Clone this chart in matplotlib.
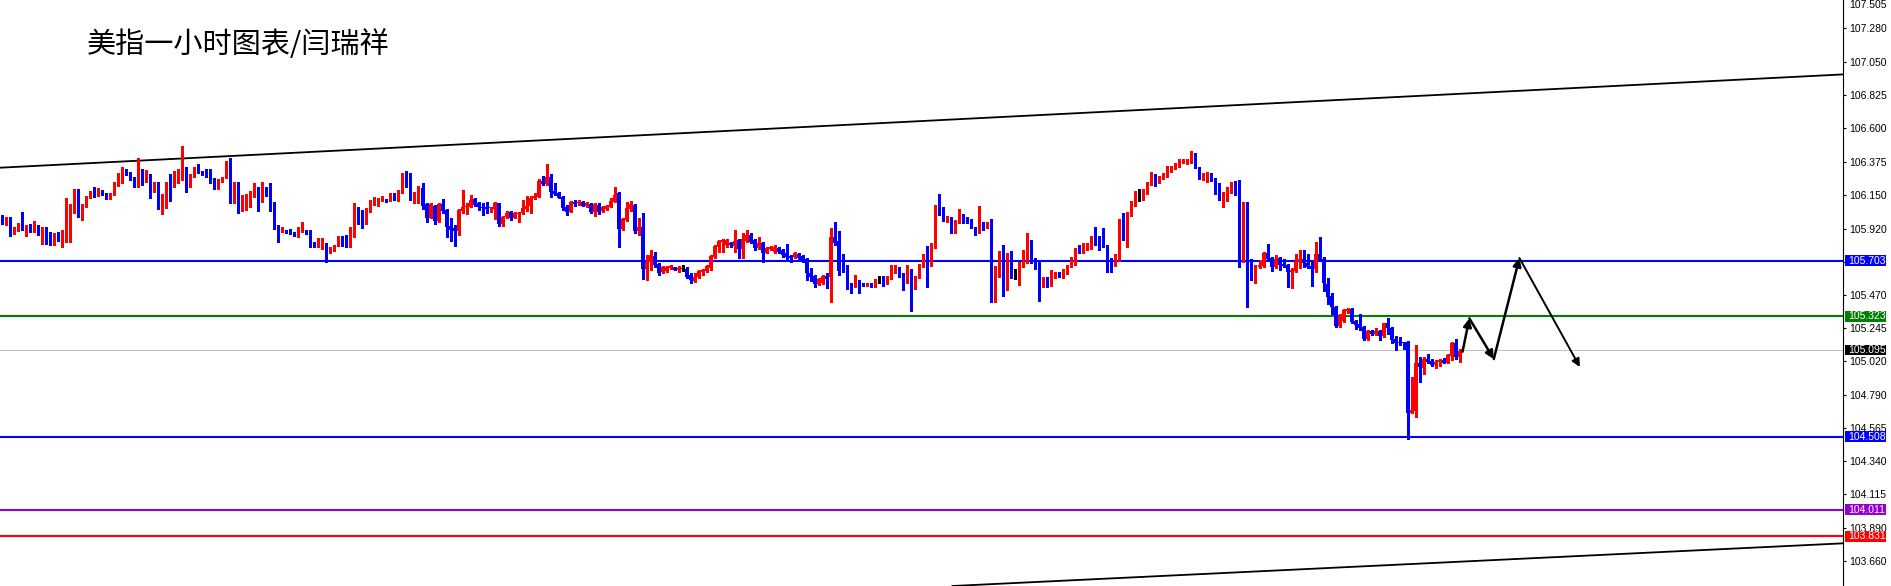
import numpy as np
import matplotlib
matplotlib.use('Agg')
import matplotlib.pyplot as plt
from matplotlib.patches import Rectangle
from matplotlib.transforms import blended_transform_factory

plt.rcParams['font.family'] = ['Liberation Sans', 'DejaVu Sans']

title = '美指一小时图表/闫瑞祥'

# hourly candles (oldest first)
opens = [
    106.005, 105.955, 105.989, 105.887, 105.910, 105.949, 105.926, 105.933, 105.910, 105.933,
    105.876, 105.915, 105.883, 105.874, 105.874, 105.854, 105.887, 105.944, 106.035, 106.154,
    106.012, 106.073, 106.136, 106.170, 106.143, 106.170, 106.159, 106.125, 106.154, 106.216,
    106.250, 106.311, 106.299, 106.261, 106.234, 106.317, 106.250, 106.283, 106.182, 106.231,
    106.087, 106.141, 106.231, 106.216, 106.238, 106.254, 106.306, 106.209, 106.277, 106.324,
    106.302, 106.299, 106.295, 106.254, 106.200, 106.245, 106.265, 106.374, 106.096, 106.231,
    106.096, 106.107, 106.141, 106.159, 106.193, 106.107, 106.198, 106.154, 106.096, 105.937,
    105.903, 105.903, 105.905, 105.894, 105.887, 105.903, 105.903, 105.899, 105.820, 105.804,
    105.801, 105.804, 105.763, 105.779, 105.808, 105.865, 105.831, 105.801, 105.869, 106.046,
    106.039, 105.971, 106.039, 106.086, 106.109, 106.114, 106.118, 106.114, 106.154, 106.114,
    106.170, 106.283, 106.290, 106.141, 106.159, 106.197, 106.084, 105.994, 106.073, 105.973,
    106.084, 106.046, 105.937, 105.921, 105.905, 106.039, 106.064, 106.068, 106.118, 106.091,
    106.064, 106.068, 106.057, 106.050, 106.091, 105.951, 105.996, 106.030, 105.994, 106.016,
    106.023, 106.050, 106.073, 106.125, 106.136, 106.245, 106.222, 106.272, 106.177, 106.163,
    106.136, 106.064, 106.034, 106.102, 106.091, 106.102, 106.075, 106.086, 106.034, 106.080,
    106.039, 106.052, 106.068, 106.102, 106.164, 105.915, 105.978, 106.051, 106.080, 105.906,
    105.933, 105.646, 105.695, 105.736, 105.680, 105.628, 105.634, 105.650, 105.657, 105.639,
    105.646, 105.646, 105.605, 105.566, 105.589, 105.628, 105.634, 105.650, 105.729, 105.797,
    105.831, 105.809, 105.820, 105.802, 105.843, 105.779, 105.838, 105.877, 105.843, 105.786,
    105.824, 105.757, 105.779, 105.763, 105.786, 105.775, 105.757, 105.734, 105.729, 105.748,
    105.734, 105.711, 105.621, 105.598, 105.544, 105.553, 105.598, 105.594, 105.865, 105.838,
    105.718, 105.643, 105.548, 105.537, 105.566, 105.548, 105.537, 105.548, 105.537, 105.559,
    105.566, 105.548, 105.582, 105.620, 105.650, 105.611, 105.552, 105.639, 105.525, 105.589,
    105.661, 105.740, 105.729, 105.808, 106.073, 106.057, 105.978, 105.989, 105.899, 105.967,
    106.005, 105.994, 105.973, 105.928, 105.899, 105.944, 105.933, 105.960, 105.559, 105.643,
    105.763, 105.593, 105.713, 105.623, 105.620, 105.661, 105.756, 105.835, 105.706, 105.688,
    105.530, 105.582, 105.537, 105.589, 105.620, 105.611, 105.634, 105.661, 105.706, 105.774,
    105.763, 105.781, 105.786, 105.858, 105.820, 105.820, 105.801, 105.695, 105.672, 105.734,
    105.978, 105.937, 106.012, 106.096, 106.132, 106.125, 106.175, 106.231, 106.283, 106.243,
    106.261, 106.272, 106.311, 106.324, 106.347, 106.374, 106.370, 106.370, 106.431, 106.336,
    106.265, 106.272, 106.295, 106.261, 106.175, 106.118, 106.141, 106.170, 106.231, 106.200,
    105.706, 106.087, 105.611, 105.577, 105.657, 105.666, 105.756, 105.718, 105.661, 105.718,
    105.679, 105.672, 105.627, 105.634, 105.702, 105.713, 105.688, 105.668, 105.645, 105.747,
    105.713, 105.543, 105.462, 105.385, 105.258, 105.294, 105.362, 105.374, 105.292, 105.272,
    105.249, 105.170, 105.225, 105.204, 105.227, 105.191, 105.277, 105.243, 105.168, 105.152,
    105.148, 105.152, 104.670, 104.684, 105.005, 104.971, 105.035, 105.023, 104.994, 105.014,
    105.028, 105.010, 105.055, 105.146, 105.046,
]
highs = [
    106.012, 106.001, 105.996, 105.933, 105.955, 106.030, 105.944, 105.951, 105.971, 105.944,
    105.933, 105.933, 105.894, 105.892, 105.899, 105.910, 106.125, 106.087, 106.188, 106.186,
    106.087, 106.141, 106.177, 106.200, 106.193, 106.182, 106.164, 106.164, 106.238, 106.295,
    106.340, 106.324, 106.306, 106.272, 106.397, 106.324, 106.317, 106.290, 106.238, 106.238,
    106.154, 106.238, 106.290, 106.311, 106.322, 106.480, 106.340, 106.290, 106.340, 106.358,
    106.313, 106.322, 106.322, 106.261, 106.256, 106.272, 106.379, 106.401, 106.238, 106.238,
    106.148, 106.154, 106.175, 106.227, 106.200, 106.234, 106.204, 106.227, 106.102, 105.944,
    105.928, 105.910, 105.915, 105.899, 105.933, 105.962, 105.910, 105.910, 105.831, 105.854,
    105.854, 105.824, 105.797, 105.808, 105.869, 105.869, 105.876, 105.933, 106.096, 106.068,
    106.046, 106.057, 106.114, 106.136, 106.125, 106.141, 106.120, 106.159, 106.159, 106.181,
    106.295, 106.313, 106.295, 106.170, 106.209, 106.231, 106.091, 106.091, 106.080, 106.091,
    106.118, 106.050, 105.989, 105.944, 106.050, 106.181, 106.096, 106.148, 106.125, 106.102,
    106.091, 106.098, 106.068, 106.102, 106.096, 106.005, 106.039, 106.039, 106.034, 106.034,
    106.114, 106.141, 106.141, 106.159, 106.254, 106.279, 106.358, 106.290, 106.227, 106.170,
    106.141, 106.080, 106.109, 106.114, 106.114, 106.107, 106.102, 106.091, 106.091, 106.091,
    106.073, 106.080, 106.129, 106.204, 106.171, 105.990, 106.103, 106.107, 106.087, 105.990,
    106.024, 105.741, 105.775, 105.763, 105.684, 105.666, 105.666, 105.673, 105.660, 105.666,
    105.673, 105.662, 105.616, 105.616, 105.639, 105.644, 105.673, 105.741, 105.809, 105.843,
    105.847, 105.847, 105.831, 105.911, 105.847, 105.888, 105.911, 105.888, 105.847, 105.865,
    105.831, 105.797, 105.800, 105.809, 105.797, 105.779, 105.816, 105.741, 105.763, 105.757,
    105.741, 105.718, 105.650, 105.605, 105.582, 105.605, 105.616, 105.922, 105.967, 105.906,
    105.748, 105.673, 105.553, 105.605, 105.571, 105.553, 105.553, 105.553, 105.575, 105.598,
    105.598, 105.598, 105.672, 105.672, 105.657, 105.616, 105.672, 105.643, 105.598, 105.677,
    105.747, 105.801, 105.820, 106.080, 106.154, 106.064, 106.005, 105.996, 105.978, 106.050,
    106.019, 106.001, 105.982, 105.933, 106.073, 105.967, 105.967, 105.982, 105.666, 105.770,
    105.808, 105.752, 105.767, 105.643, 105.695, 105.774, 105.887, 105.842, 105.718, 105.695,
    105.593, 105.593, 105.639, 105.627, 105.627, 105.643, 105.672, 105.725, 105.786, 105.808,
    105.820, 105.820, 105.869, 105.928, 105.869, 105.921, 105.808, 105.718, 105.747, 105.983,
    106.023, 106.035, 106.109, 106.175, 106.186, 106.186, 106.238, 106.306, 106.290, 106.279,
    106.295, 106.345, 106.345, 106.367, 106.390, 106.390, 106.392, 106.446, 106.435, 106.340,
    106.295, 106.302, 106.299, 106.265, 106.227, 106.170, 106.200, 106.238, 106.245, 106.250,
    106.102, 106.102, 105.713, 105.673, 105.706, 105.763, 105.815, 105.725, 105.740, 105.725,
    105.711, 105.679, 105.650, 105.747, 105.774, 105.774, 105.747, 105.695, 105.831, 105.865,
    105.725, 105.582, 105.480, 105.394, 105.340, 105.371, 105.383, 105.378, 105.299, 105.340,
    105.258, 105.231, 105.232, 105.243, 105.232, 105.281, 105.311, 105.250, 105.191, 105.186,
    105.152, 105.159, 104.915, 105.130, 105.051, 105.046, 105.069, 105.032, 105.028, 105.032,
    105.039, 105.069, 105.152, 105.168, 105.100,
]
lows = [
    105.951, 105.944, 105.869, 105.883, 105.905, 105.910, 105.869, 105.899, 105.899, 105.876,
    105.815, 105.813, 105.808, 105.808, 105.835, 105.797, 105.831, 105.831, 106.028, 105.996,
    105.978, 106.068, 106.130, 106.136, 106.141, 106.148, 106.121, 106.121, 106.148, 106.209,
    106.231, 106.283, 106.250, 106.204, 106.204, 106.216, 106.238, 106.125, 106.170, 106.050,
    106.019, 106.057, 106.109, 106.204, 106.231, 106.250, 106.170, 106.204, 106.272, 106.295,
    106.283, 106.272, 106.227, 106.186, 106.191, 106.238, 106.261, 106.091, 106.091, 106.023,
    106.041, 106.046, 106.068, 106.136, 106.041, 106.102, 106.143, 106.041, 105.915, 105.831,
    105.899, 105.887, 105.883, 105.872, 105.860, 105.899, 105.883, 105.797, 105.797, 105.797,
    105.779, 105.695, 105.756, 105.770, 105.801, 105.801, 105.797, 105.797, 105.860, 105.951,
    105.921, 105.951, 106.034, 106.080, 106.073, 106.109, 106.102, 106.109, 106.114, 106.109,
    106.163, 106.200, 106.114, 106.091, 106.096, 106.050, 105.966, 105.989, 105.951, 105.966,
    106.023, 105.860, 105.837, 105.801, 105.876, 106.023, 106.019, 106.064, 106.073, 106.046,
    106.012, 106.023, 106.034, 105.982, 105.937, 105.937, 105.989, 105.978, 105.989, 105.966,
    106.019, 106.041, 106.023, 106.118, 106.132, 106.215, 106.215, 106.136, 106.148, 106.125,
    106.046, 106.012, 106.030, 106.075, 106.080, 106.073, 106.068, 106.027, 106.005, 106.019,
    106.034, 106.046, 106.064, 106.098, 105.797, 105.910, 105.974, 106.042, 105.888, 105.876,
    105.578, 105.571, 105.639, 105.662, 105.605, 105.616, 105.628, 105.643, 105.637, 105.628,
    105.632, 105.587, 105.553, 105.560, 105.582, 105.605, 105.628, 105.639, 105.718, 105.763,
    105.763, 105.797, 105.797, 105.763, 105.718, 105.718, 105.831, 105.820, 105.775, 105.779,
    105.695, 105.752, 105.775, 105.757, 105.752, 105.729, 105.711, 105.695, 105.718, 105.707,
    105.695, 105.571, 105.566, 105.526, 105.537, 105.544, 105.514, 105.424, 105.809, 105.605,
    105.628, 105.508, 105.485, 105.526, 105.485, 105.530, 105.530, 105.526, 105.526, 105.548,
    105.530, 105.543, 105.575, 105.616, 105.593, 105.503, 105.548, 105.362, 105.507, 105.582,
    105.657, 105.521, 105.666, 105.786, 106.012, 105.973, 105.967, 105.887, 105.887, 105.960,
    105.960, 105.960, 105.921, 105.876, 105.892, 105.910, 105.921, 105.424, 105.424, 105.593,
    105.464, 105.503, 105.582, 105.575, 105.537, 105.657, 105.688, 105.688, 105.643, 105.430,
    105.525, 105.525, 105.530, 105.582, 105.593, 105.582, 105.611, 105.657, 105.672, 105.752,
    105.756, 105.774, 105.779, 105.808, 105.774, 105.797, 105.627, 105.627, 105.666, 105.702,
    105.842, 105.792, 106.005, 106.073, 106.107, 106.114, 106.154, 106.216, 106.211, 106.231,
    106.254, 106.268, 106.306, 106.322, 106.340, 106.363, 106.358, 106.363, 106.329, 106.256,
    106.250, 106.238, 106.245, 106.154, 106.114, 106.068, 106.109, 106.164, 106.148, 105.661,
    105.695, 105.390, 105.571, 105.548, 105.650, 105.661, 105.702, 105.632, 105.650, 105.638,
    105.657, 105.525, 105.518, 105.627, 105.650, 105.657, 105.654, 105.532, 105.627, 105.702,
    105.498, 105.408, 105.340, 105.254, 105.254, 105.288, 105.344, 105.276, 105.236, 105.231,
    105.163, 105.163, 105.198, 105.198, 105.164, 105.186, 105.204, 105.141, 105.096, 105.130,
    105.100, 104.489, 104.666, 104.643, 104.881, 104.933, 105.005, 104.987, 104.971, 104.987,
    105.005, 105.005, 105.028, 105.032, 105.017,
]
closes = [
    105.967, 105.989, 105.887, 105.926, 105.951, 105.915, 105.933, 105.910, 105.926, 105.887,
    105.910, 105.876, 105.869, 105.883, 105.847, 105.892, 105.955, 106.053, 106.154, 106.012,
    106.080, 106.130, 106.170, 106.148, 106.170, 106.154, 106.136, 106.159, 106.231, 106.265,
    106.311, 106.290, 106.254, 106.231, 106.317, 106.245, 106.306, 106.186, 106.231, 106.080,
    106.148, 106.231, 106.209, 106.250, 106.261, 106.306, 106.272, 106.283, 106.333, 106.299,
    106.293, 106.283, 106.234, 106.193, 106.250, 106.268, 106.370, 106.121, 106.231, 106.096,
    106.121, 106.148, 106.170, 106.193, 106.107, 106.193, 106.148, 106.091, 105.928, 105.903,
    105.921, 105.894, 105.887, 105.876, 105.926, 105.926, 105.887, 105.808, 105.801, 105.820,
    105.847, 105.758, 105.790, 105.801, 105.865, 105.824, 105.808, 105.926, 106.046, 106.034,
    105.971, 106.046, 106.086, 106.114, 106.118, 106.129, 106.114, 106.154, 106.125, 106.177,
    106.283, 106.249, 106.141, 106.163, 106.197, 106.073, 105.994, 106.084, 105.973, 106.084,
    106.039, 105.932, 105.910, 105.905, 106.046, 106.064, 106.073, 106.114, 106.080, 106.068,
    106.057, 106.052, 106.064, 106.096, 105.951, 105.996, 106.023, 105.994, 106.023, 106.023,
    106.061, 106.073, 106.129, 106.141, 106.245, 106.222, 106.272, 106.170, 106.154, 106.129,
    106.057, 106.034, 106.102, 106.086, 106.102, 106.075, 106.091, 106.034, 106.084, 106.034,
    106.068, 106.075, 106.109, 106.148, 105.915, 105.983, 106.058, 106.087, 105.906, 105.933,
    105.646, 105.695, 105.741, 105.673, 105.621, 105.657, 105.657, 105.666, 105.639, 105.650,
    105.646, 105.594, 105.571, 105.594, 105.634, 105.639, 105.666, 105.734, 105.802, 105.838,
    105.843, 105.843, 105.809, 105.838, 105.779, 105.847, 105.877, 105.827, 105.786, 105.824,
    105.757, 105.786, 105.793, 105.793, 105.763, 105.741, 105.729, 105.718, 105.757, 105.718,
    105.702, 105.616, 105.589, 105.544, 105.575, 105.598, 105.575, 105.865, 105.824, 105.634,
    105.634, 105.537, 105.530, 105.566, 105.544, 105.537, 105.548, 105.537, 105.566, 105.559,
    105.553, 105.593, 105.627, 105.650, 105.598, 105.552, 105.632, 105.525, 105.593, 105.666,
    105.740, 105.729, 105.815, 106.073, 106.050, 105.978, 105.996, 105.892, 105.973, 106.046,
    105.982, 105.967, 105.928, 105.892, 105.944, 105.933, 105.960, 105.559, 105.650, 105.763,
    105.593, 105.718, 105.620, 105.623, 105.666, 105.763, 105.835, 105.695, 105.688, 105.530,
    105.582, 105.537, 105.593, 105.620, 105.605, 105.639, 105.666, 105.718, 105.779, 105.756,
    105.786, 105.792, 105.858, 105.815, 105.815, 105.801, 105.688, 105.672, 105.740, 105.978,
    105.944, 106.019, 106.102, 106.141, 106.132, 106.182, 106.231, 106.295, 106.243, 106.272,
    106.288, 106.317, 106.336, 106.356, 106.381, 106.381, 106.385, 106.431, 106.336, 106.265,
    106.279, 106.288, 106.254, 106.164, 106.118, 106.159, 106.177, 106.231, 106.204, 105.706,
    106.096, 105.600, 105.577, 105.666, 105.673, 105.756, 105.711, 105.661, 105.711, 105.672,
    105.666, 105.627, 105.638, 105.702, 105.713, 105.684, 105.661, 105.645, 105.747, 105.706,
    105.548, 105.457, 105.390, 105.258, 105.317, 105.367, 105.371, 105.288, 105.265, 105.242,
    105.170, 105.227, 105.204, 105.227, 105.191, 105.277, 105.243, 105.164, 105.146, 105.141,
    105.141, 104.670, 104.688, 105.005, 104.978, 105.032, 105.017, 104.994, 105.017, 105.028,
    105.010, 105.062, 105.146, 105.046, 105.091,
]

# horizontal levels and their tag colours
levels = [105.703, 105.323, 105.095, 104.508, 104.011, 103.831]
level_colors = ['#0000ff', '#008000', '#000000', '#0000ff', '#9400d3', '#ff0000']
level_widths = [1.5, 1.5, 0.7, 1.5, 1.5, 1.5]
level_line_colors = ['#0000ff', '#008000', '#c0c0c0', '#0000ff', '#9400d3', '#ff0000']

# channel lines: two anchor points each (bar index, price)
upper_trend = [(0, 106.334), (364, 106.835)]
lower_trend = [(242.7, 103.500), (364, 103.658)]

# forecast path drawn with arrows (bar index, price)
path_x = [364.7, 366.4, 372.5, 378.9, 394.0]
path_y = [105.084, 105.310, 105.034, 105.720, 104.980]

yticks = [107.280, 107.050, 106.825, 106.600, 106.375, 106.150, 105.920, 105.695,
          105.470, 105.245, 105.020, 104.790, 104.565, 104.340, 104.115, 103.890, 103.660]

o = np.array(opens); h = np.array(highs); l = np.array(lows); c = np.array(closes)
x = np.arange(len(o))

W, H = 1891, 586
fig = plt.figure(figsize=(W / 100, H / 100), dpi=100)
ax = fig.add_axes([0, 0, 1843 / W, 1])
ax.set_xlim(-0.5, 459.7)
ax.set_ylim(103.493, 107.472)

for y, col, lw in zip(levels, level_line_colors, level_widths):
    ax.axhline(y, color=col, lw=lw, zorder=1)

ax.axline(upper_trend[0], upper_trend[1], color='black', lw=1.3, zorder=2)
ax.axline(lower_trend[0], lower_trend[1], color='black', lw=1.3, zorder=2)

cols = np.where(c > o, '#ff0000', np.where(c < o, '#0000ff', '#000000'))
ax.vlines(x, l, h, colors=cols, lw=0.75, zorder=3, antialiased=False)
ax.bar(x, np.maximum(np.abs(c - o), 0.005), 0.75, bottom=np.minimum(o, c),
       color=cols, lw=0, zorder=4, antialiased=False)

for k in range(len(path_x) - 1):
    ax.annotate('', xy=(path_x[k + 1], path_y[k + 1]), xytext=(path_x[k], path_y[k]),
                arrowprops=dict(arrowstyle='-|>', color='black', lw=1.8 if k < 3 else 1.4,
                                mutation_scale=12, shrinkA=0, shrinkB=0), zorder=5)

ax.yaxis.tick_right()
ax.set_yticks(yticks)
ax.set_yticklabels(['%.3f' % v for v in yticks])
ax.tick_params(axis='y', labelsize=7.5, length=2.5, width=0.8, pad=2, colors='black')
ax.set_xticks([])
for s in ['left', 'top', 'bottom']:
    ax.spines[s].set_visible(False)
ax.spines['right'].set_linewidth(0.8)

ax.text(87 / 1843, 1 - 45 / H, title, transform=ax.transAxes, fontsize=21,
        family=['Noto Sans CJK SC', 'DejaVu Sans'], va='center', ha='left')

# top scale label
fig.text(1849 / W, 1 - 5 / H, '107.505', fontsize=7.5, va='center', ha='left')

# price tags on the scale
tr = blended_transform_factory(fig.transFigure, ax.transData)
for y, col in zip(levels, level_colors):
    fig.add_artist(Rectangle((1845 / W, y - 0.036), 41 / W, 0.072, transform=tr,
                             facecolor=col, edgecolor='none', zorder=5))
    fig.text(1848 / W, y, '%.3f' % y, transform=tr, color='white', fontsize=7.5,
             va='center', ha='left', zorder=6)

fig.savefig('out.png', dpi=100, facecolor='white')
